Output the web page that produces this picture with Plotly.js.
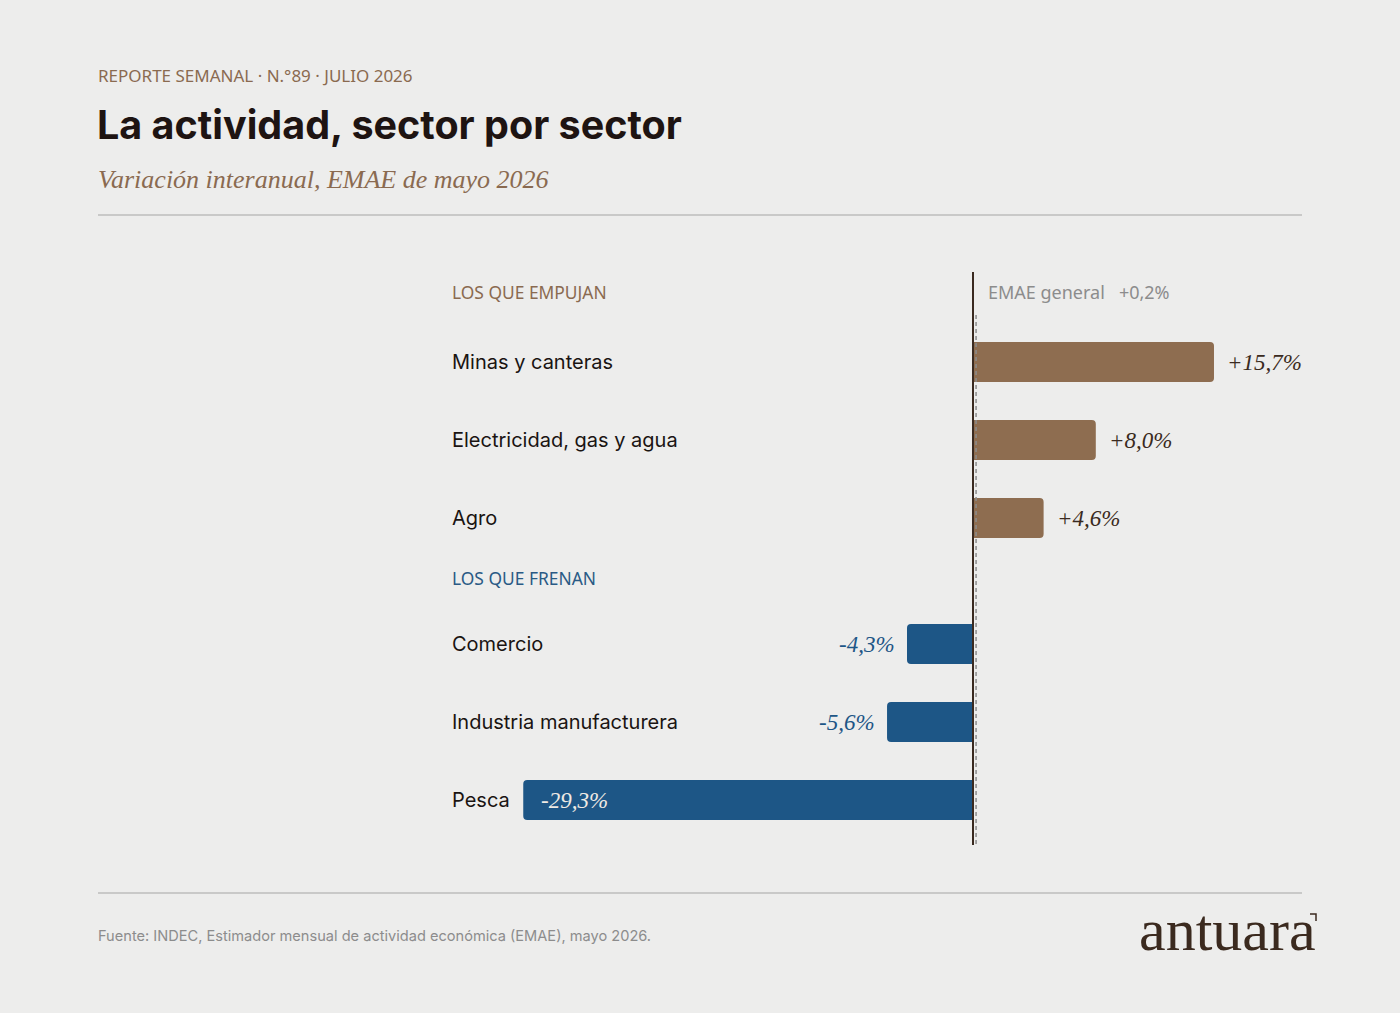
<!DOCTYPE html>
<html>
<head>
<meta charset="utf-8">
<script src="https://cdn.plot.ly/plotly-3.0.1.min.js"></script>
<style>html,body{margin:0;padding:0;background:#EDEDEC;}#chart{width:1400px;height:1013px;}</style>
</head>
<body>
<div id="chart"></div>
<script>
// ---- data ----
const pushSectors = ["Minas y canteras", "Electricidad, gas y agua", "Agro"];
const pushValues = [15.7, 8.0, 4.6];
const brakeSectors = ["Comercio", "Industria manufacturera", "Pesca"];
const brakeValues = [-4.3, -5.6, -29.3];
const emaeGeneral = 0.2;
const pushHeader = "LOS QUE EMPUJAN";
const brakeHeader = "LOS QUE FRENAN";

// ---- styling / geometry ----
const W = 1400, H = 1013;
const BG = "#EDEDEC";
const BROWN = "#8E6D50";
const BLUE = "#1D5686";
const DARK = "#3A2A20";
const pxX = x => x / W;
const pxY = y => 1 - y / H;
const fmt = v => (v > 0 ? "+" : "") + v.toFixed(1).replace(".", ",") + "%";
const SERIF = "Liberation Serif, DejaVu Serif, serif";
const SANS = "Inter, Noto Sans, sans-serif";
const NOTO = "Noto Sans, sans-serif";

const traces = [
  {type: "bar", orientation: "h", x: pushValues, y: pushSectors, xaxis: "x", yaxis: "y",
   marker: {color: BROWN, cornerradius: 4}, width: 0.51, hoverinfo: "skip", showlegend: false},
  {type: "bar", orientation: "h", x: brakeValues, y: brakeSectors, xaxis: "x", yaxis: "y2",
   marker: {color: BLUE, cornerradius: 4}, width: 0.51, hoverinfo: "skip", showlegend: false}
];

const annotations = [];
function addText(text, x, y, opts) {
  annotations.push(Object.assign({text: text, x: x, y: y, xref: "paper", yref: "paper",
    showarrow: false, xanchor: "left", yanchor: "middle", xshift: -2}, opts));
}
// header texts
addText("REPORTE SEMANAL · N.°89 · JULIO 2026", pxX(98), pxY(76), {font: {family: NOTO, size: 17, color: "#8A6A50"}});
addText("<b>La actividad, sector por sector</b>", pxX(97), pxY(125), {font: {family: SANS, size: 39.5, color: "#1E1412"}});
addText("<i>Variación interanual, EMAE de mayo 2026</i>", pxX(98), pxY(180), {font: {family: SERIF, size: 26, color: "#8A6A50"}});
addText(pushHeader, pxX(452), pxY(292), {font: {family: NOTO, size: 17.4, color: "#8A6A50"}});
addText(brakeHeader, pxX(452), pxY(578), {font: {family: NOTO, size: 17.4, color: "#2A5A85"}});
addText("EMAE general\u00a0\u00a0\u00a0" + fmt(emaeGeneral), pxX(988), pxY(292), {font: {family: NOTO, size: 18, color: "#8C8C8C"}});
addText("Fuente: INDEC, Estimador mensual de actividad económica (EMAE), mayo 2026.", pxX(98), pxY(936), {font: {family: SANS, size: 14.6, color: "#8C8C8C"}});
addText("antuara", pxX(1318), pxY(930), {xanchor: "right", xshift: 0, font: {family: SERIF, size: 60, color: "#3B2A1F"}});

// sector labels and value labels
function addRows(names, vals, yref, color) {
  names.forEach((n, i) => {
    annotations.push({text: n, x: pxX(452), xref: "paper", y: n, yref: yref, showarrow: false, xshift: -2,
      xanchor: "left", yanchor: "middle", font: {family: SANS, size: 20, color: "#1A1412"}});
    const v = vals[i];
    const fits = Math.abs(v) > 20;
    let a = {text: "<i>" + fmt(v) + "</i>", x: v, xref: "x", y: n, yref: yref, showarrow: false,
      yanchor: "middle", font: {family: SERIF, size: 23, color: color}};
    if (fits) { a.xanchor = "left"; a.xshift = 16; a.font.color = "#EFEAE4"; }
    else if (v > 0) { a.xanchor = "left"; a.xshift = 11; }
    else { a.xanchor = "right"; a.xshift = -10; }
    annotations.push(a);
  });
}
addRows(pushSectors, pushValues, "y", DARK);
addRows(brakeSectors, brakeValues, "y2", BLUE);

const shapes = [
  {type: "line", xref: "paper", yref: "paper", x0: pxX(98), x1: pxX(1302), y0: pxY(215), y1: pxY(215), line: {color: "#BDBDBD", width: 1.5}},
  {type: "line", xref: "paper", yref: "paper", x0: pxX(98), x1: pxX(1302), y0: pxY(893), y1: pxY(893), line: {color: "#BDBDBD", width: 1.5}},
  {type: "line", xref: "x", yref: "paper", x0: emaeGeneral, x1: emaeGeneral, y0: pxY(315), y1: pxY(845), line: {color: "#8C8C8C", width: 1.5, dash: "4px,3px"}, layer: "above"},
  {type: "line", xref: "x", yref: "paper", x0: 0, x1: 0, y0: pxY(272), y1: pxY(845), line: {color: DARK, width: 2}, layer: "above"},
  {type: "path", xref: "paper", yref: "paper", path: `M ${pxX(1310)} ${pxY(914)} L ${pxX(1316)} ${pxY(914)} L ${pxX(1316)} ${pxY(921)}`, line: {color: "#3B2A1F", width: 1.5}}
];

const axX = 15.35; // px per unit
const layout = {
  width: W, height: H,
  paper_bgcolor: BG, plot_bgcolor: "rgba(0,0,0,0)",
  margin: {l: 0, r: 0, t: 0, b: 0},
  xaxis: {range: [-973 / axX, (W - 973) / axX], showgrid: false, zeroline: false, showticklabels: false, fixedrange: true},
  yaxis: {domain: [pxY(557), pxY(323)], type: "category", categoryorder: "array", categoryarray: pushSectors,
          range: [2.5, -0.5], showgrid: false, zeroline: false, showticklabels: false},
  yaxis2: {domain: [pxY(839), pxY(605)], type: "category", categoryorder: "array", categoryarray: brakeSectors,
          range: [2.5, -0.5], showgrid: false, zeroline: false, showticklabels: false, anchor: "x"},
  annotations: annotations,
  shapes: shapes,
  showlegend: false
};
Plotly.newPlot("chart", traces, layout, {displayModeBar: false, staticPlot: true});
</script>
</body>
</html>
